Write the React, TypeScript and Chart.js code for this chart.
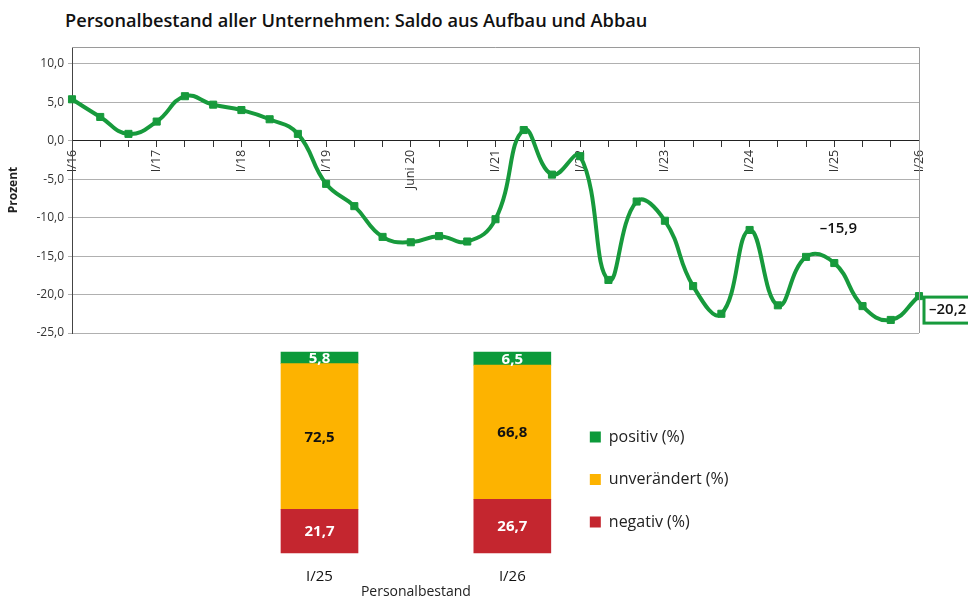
import React, { useEffect, useRef } from "react";
import { Chart, registerables } from "chart.js";

Chart.register(...registerables);

// ---- Line chart data (3 surveys per year, I/16 ... I/26) ----
const lineCategories = [
  "I/16", "II/16", "III/16",
  "I/17", "II/17", "III/17",
  "I/18", "II/18", "III/18",
  "I/19", "II/19", "III/19",
  "Juni 20", "II/20", "III/20",
  "I/21", "II/21", "III/21",
  "I/22", "II/22", "III/22",
  "I/23", "II/23", "III/23",
  "I/24", "II/24", "III/24",
  "I/25", "II/25", "III/25",
  "I/26",
];
const shownTickIndices = [0, 3, 6, 9, 12, 15, 18, 21, 24, 27, 30];
const saldoValues = [
  5.4, 3.1, 0.9,
  2.5, 5.8, 4.7,
  4.0, 2.8, 0.9,
  -5.6, -8.5, -12.5,
  -13.2, -12.4, -13.1,
  -10.2, 1.4, -4.4,
  -2.0, -18.1, -7.9,
  -10.4, -18.9, -22.5,
  -11.6, -21.4, -15.1,
  -15.9, -21.5, -23.3,
  -20.2,
];
const labeledPointIndex = 27;
const boxedPointIndex = 30;

// ---- Stacked bar data ----
const barCategories = ["I/25", "I/26"];
const negativValues = [21.7, 26.7];
const unveraendertValues = [72.5, 66.8];
const positivValues = [5.8, 6.5];

const GREEN = "#179a3c";
const BAR_GREEN = "#0c9a3a";
const ORANGE = "#fdb300";
const RED = "#c4262f";
const FONT = "'Open Sans', sans-serif";

const fmt = (v: number, dec = 1) => {
  const s = Math.abs(v).toFixed(dec).replace(".", ",");
  return v < 0 ? "\u2013" + s : s;
};

export default function App() {
  const lineRef = useRef<HTMLCanvasElement | null>(null);
  const barRef = useRef<HTMLCanvasElement | null>(null);

  useEffect(() => {
    Chart.defaults.font.family = FONT;

    const frame = {
      id: "frame",
      afterDraw(chart: any) {
        const { ctx, chartArea: a } = chart;
        ctx.save();
        ctx.strokeStyle = "#9a9a9a";
        ctx.lineWidth = 1;
        ctx.beginPath();
        ctx.moveTo(a.left, a.top + 0.5);
        ctx.lineTo(a.right + 0.5, a.top + 0.5);
        ctx.lineTo(a.right + 0.5, a.bottom);
        ctx.stroke();
        ctx.restore();
      },
    };

    const annot = {
      id: "annot",
      afterDatasetsDraw(chart: any) {
        const { ctx } = chart;
        const xs = chart.scales.x;
        const ys = chart.scales.y;
        ctx.save();
        ctx.font = `600 15px ${FONT}`;
        ctx.fillStyle = "#111";
        ctx.textAlign = "center";
        ctx.textBaseline = "middle";
        const x1 = xs.getPixelForValue(labeledPointIndex);
        const y1 = ys.getPixelForValue(saldoValues[labeledPointIndex]);
        ctx.fillText(fmt(saldoValues[labeledPointIndex]), x1 + 4, y1 - 34);

        const x2 = xs.getPixelForValue(boxedPointIndex);
        const y2 = ys.getPixelForValue(saldoValues[boxedPointIndex]);
        ctx.strokeStyle = GREEN;
        ctx.lineWidth = 3;
        ctx.strokeRect(x2 + 5, y2 + 1, 60, 26);
        ctx.textAlign = "left";
        ctx.fillText(fmt(saldoValues[boxedPointIndex]), x2 + 10, y2 + 14);
        ctx.restore();
      },
    };

    const lineChart = new Chart(lineRef.current as HTMLCanvasElement, {
      type: "line",
      data: {
        labels: lineCategories,
        datasets: [
          {
            data: saldoValues,
            borderColor: GREEN,
            backgroundColor: GREEN,
            borderWidth: 4,
            pointStyle: "rect",
            pointRadius: 5,
            pointBorderWidth: 1,
            pointBorderColor: GREEN,
            pointBackgroundColor: GREEN,
            tension: 0.45,
            clip: false as any,
          },
        ],
      },
      options: {
        animation: false,
        responsive: true,
        maintainAspectRatio: false,
        layout: { padding: { top: 47, right: 49, bottom: 12, left: 4 } },
        plugins: { legend: { display: false }, tooltip: { enabled: false } },
        scales: {
          x: {
            type: "category",
            position: { y: 0 } as any,
            grid: {
              drawOnChartArea: false,
              drawTicks: true,
              tickLength: 6,
              color: "#333",
            },
            border: { color: "#222", width: 1 },
            ticks: {
              autoSkip: false,
              minRotation: 90,
              maxRotation: 90,
              padding: 3,
              color: "#333",
              font: { size: 12.5 },
              callback: (_v: any, i: number) =>
                shownTickIndices.includes(i) ? lineCategories[i] : "",
            },
          },
          y: {
            min: -25,
            max: 12.2,
            grid: { color: "#b0b0b0", tickLength: 4 },
            border: { color: "#444" },
            ticks: {
              stepSize: 5,
              includeBounds: false,
              color: "#333",
              padding: 4,
              font: { size: 12 },
              callback: (v: any) => {
                const n = Number(v);
                const s = Math.abs(n).toFixed(1).replace(".", ",");
                return n < 0 ? "-" + s : s;
              },
            },
            title: {
              display: true,
              text: "Prozent",
              color: "#222",
              font: { size: 12, weight: "bold" },
              padding: { top: 2, bottom: 0 },
            },
            afterFit: (s: any) => {
              s.width = 68;
            },
          },
        },
      },
      plugins: [frame, annot],
    } as any);

    const barLabels = {
      id: "barLabels",
      afterDatasetsDraw(chart: any) {
        const { ctx } = chart;
        ctx.save();
        ctx.font = `bold 15px ${FONT}`;
        ctx.textAlign = "center";
        ctx.textBaseline = "middle";
        chart.data.datasets.forEach((ds: any, di: number) => {
          const meta = chart.getDatasetMeta(di);
          meta.data.forEach((el: any, i: number) => {
            const p = el.getProps(["x", "y", "base"], true);
            ctx.fillStyle = di === 1 ? "#111" : "#fff";
            ctx.fillText(fmt(ds.data[i]), p.x, (p.y + p.base) / 2 + 1);
          });
        });
        ctx.restore();
      },
    };

    const barChart = new Chart(barRef.current as HTMLCanvasElement, {
      type: "bar",
      data: {
        labels: barCategories,
        datasets: [
          { label: "negativ (%)", data: negativValues, backgroundColor: RED, barThickness: 77, clip: false as any },
          { label: "unverändert (%)", data: unveraendertValues, backgroundColor: ORANGE, barThickness: 77, clip: false as any },
          { label: "positiv (%)", data: positivValues, backgroundColor: BAR_GREEN, barThickness: 77, clip: false as any },
        ],
      },
      options: {
        animation: false,
        responsive: true,
        maintainAspectRatio: false,
        layout: { padding: { top: 7, right: 229.5, bottom: 0, left: 319.5 } },
        plugins: {
          tooltip: { enabled: false },
          legend: {
            position: "right",
            reverse: true,
            maxWidth: 400,
            title: { display: true, text: "", padding: 0, font: { size: 5, lineHeight: 1.2 } },
            labels: {
              boxWidth: 11,
              boxHeight: 11,
              padding: 26.5,
              color: "#222",
              font: { size: 16 },
            },
          },
        },
        scales: {
          x: {
            stacked: true,
            offset: false,
            grid: { display: false },
            border: { display: false },
            ticks: { color: "#111", padding: 7, font: { size: 15 } },
            title: {
              display: true,
              text: "Personalbestand",
              color: "#222",
              font: { size: 14 },
              padding: { top: 2, bottom: 1 },
            },
            afterFit: (s: any) => {
              s.height = 48;
            },
          },
          y: { stacked: true, display: false, min: 0, max: 100 },
          y2: {
            type: "linear",
            position: "right",
            display: true,
            grid: { display: false },
            border: { display: false },
            ticks: { display: false },
            afterFit: (s: any) => {
              s.width = 51;
            },
          },
        },
      },
      plugins: [barLabels],
    } as any);

    return () => {
      lineChart.destroy();
      barChart.destroy();
    };
  }, []);

  return (
    <div
      style={{
        position: "absolute",
        left: 0,
        top: 0,
        width: 968,
        height: 601,
        background: "#fff",
        overflow: "hidden",
      }}
    >
      <div
        style={{
          position: "absolute",
          left: 65,
          top: 8,
          fontFamily: FONT,
          fontWeight: 600,
          fontSize: 18.2,
          color: "#111",
          whiteSpace: "nowrap",
        }}
      >
        Personalbestand aller Unternehmen: Saldo aus Aufbau und Abbau
      </div>
      <div style={{ position: "absolute", left: 0, top: 0, width: 968, height: 345 }}>
        <canvas ref={lineRef} />
      </div>
      <div style={{ position: "absolute", left: 0, top: 345, width: 968, height: 256 }}>
        <canvas ref={barRef} />
      </div>
    </div>
  );
}
